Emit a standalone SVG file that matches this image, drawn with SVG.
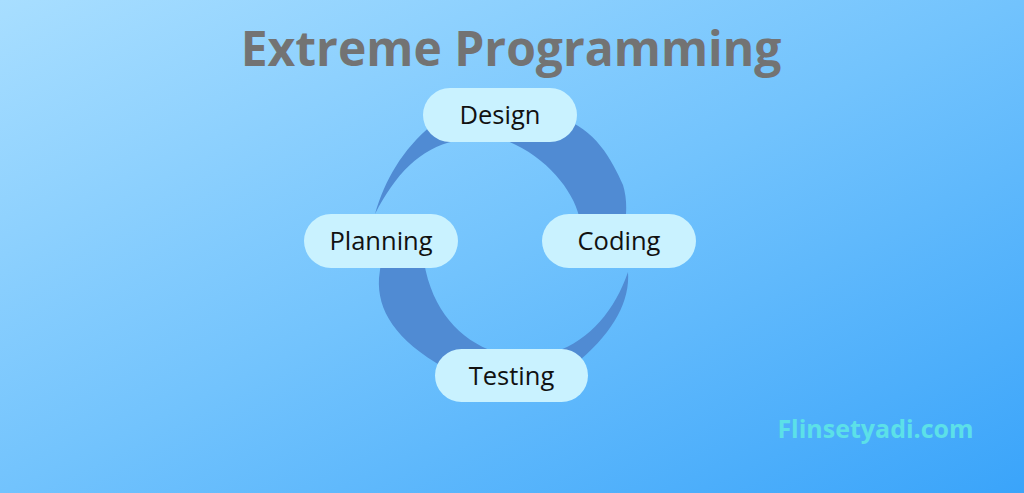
<svg xmlns="http://www.w3.org/2000/svg" width="1024" height="493" viewBox="0 0 1024 493">
  <defs>
    <linearGradient id="bg" x1="0" y1="0" x2="1" y2="1" gradientUnits="objectBoundingBox">
      <stop offset="0" stop-color="#a8deff"/>
      <stop offset="0.5" stop-color="#72c3fd"/>
      <stop offset="1" stop-color="#3aa4fa"/>
    </linearGradient>
    <style>
      .ring { fill: #508bd3; }
      .box { fill: #c9f2ff; }
      .lbl { font-family: "Open Sans", "Liberation Sans", sans-serif; font-size: 25.5px; fill: #111111; text-anchor: middle; }
      .title { font-family: "Open Sans", "Liberation Sans", sans-serif; font-size: 48px; font-weight: 700; fill: #737373; text-anchor: middle; }
      .mark { font-family: "Open Sans", "Liberation Sans", sans-serif; font-size: 25px; font-weight: 700; fill: #5ce0e8; text-anchor: middle; }
    </style>
  </defs>
  <rect x="0" y="0" width="1024" height="493" fill="url(#bg)"/>
  <text class="title" x="511" y="66">Extreme Programming</text>

  <g id="connectors">
    <path class="ring" d="M375,214 C385,180 402,150 432,125 L455,141 C420,148 395,175 375,214 Z"/>
    <path class="ring" d="M560,118 C595,128 612,160 623,185 Q627,198 626,214 L626,222 L580,222 L579,216 C573,190 545,155 505,140 L500,130 Z"/>
    <path class="ring" d="M628,272 C630,300 615,330 580,360 L555,355 L555,352 C590,340 615,310 628,272 Z"/>
    <path class="ring" d="M381,262 L379,278 C377,310 395,340 445,368 L495,356 L495,352 C460,340 432,310 424,262 Z"/>
  </g>

  <g id="design">
    <rect class="box" x="423" y="88" width="154" height="54" rx="27"/>
    <text class="lbl" x="500" y="124">Design</text>
  </g>
  <g id="planning">
    <rect class="box" x="304" y="214" width="154" height="54" rx="27"/>
    <text class="lbl" x="381" y="250">Planning</text>
  </g>
  <g id="coding">
    <rect class="box" x="542" y="214" width="154" height="54" rx="27"/>
    <text class="lbl" x="619" y="250">Coding</text>
  </g>
  <g id="testing">
    <rect class="box" x="435" y="349" width="153" height="53" rx="26.5"/>
    <text class="lbl" x="511.5" y="384.5">Testing</text>
  </g>

  <text class="mark" x="875.5" y="438">Flinsetyadi.com</text>
</svg>
